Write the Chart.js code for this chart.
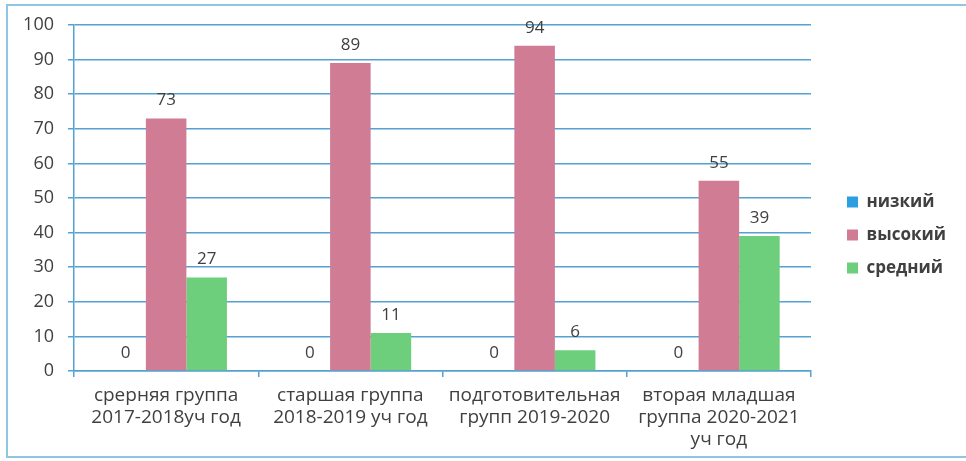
<!DOCTYPE html>
<html>
<head>
<meta charset="utf-8">
<script src="https://cdn.jsdelivr.net/npm/chart.js@4/dist/chart.umd.min.js"></script>
<style>
	html, body { margin: 0; padding: 0; background: #fff; }
	#wrap { position: relative; width: 966px; height: 461px; }
	#frame { position: absolute; left: 6px; top: 4px; width: 966px; height: 454px; border: 2px solid #8fc6e4; border-right: none; box-sizing: border-box; }
	canvas { position: absolute; left: 0; top: 0; }
</style>
</head>
<body>
<div id="wrap">
	<div id="frame"></div>
	<canvas id="chart" width="966" height="461"></canvas>
</div>
<script>
const categories = [
	['срерняя группа', '2017-2018уч год'],
	['старшая группа', '2018-2019 уч год'],
	['подготовительная', 'групп 2019-2020'],
	['вторая младшая', 'группа 2020-2021', 'уч год']
];
const seriesNames = ['низкий', 'высокий', 'средний'];
const lowValues = [0, 0, 0, 0];
const highValues = [73, 89, 94, 55];
const midValues = [27, 11, 6, 39];
const yMin = 0;
const yMax = 100;
const yStep = 10;

const gridColor = '#55a2d2';
const textColor = '#404040';
const fontFamily = '"Open Sans", "DejaVu Sans", sans-serif';

// value labels above each bar
const valueLabels = {
	id: 'valueLabels',
	afterDatasetsDraw(chart) {
		const ctx = chart.ctx;
		ctx.save();
		ctx.font = '17px ' + fontFamily;
		ctx.fillStyle = textColor;
		ctx.textAlign = 'center';
		ctx.textBaseline = 'middle';
		chart.data.datasets.forEach((ds, i) => {
			chart.getDatasetMeta(i).data.forEach((bar, j) => {
				ctx.fillText(ds.data[j], bar.x, bar.y - 18);
			});
		});
		ctx.restore();
	}
};

// keep the plot area narrow and move the legend a bit to the right of it
const legendPlace = {
	id: 'legendPlace',
	beforeLayout(chart) {
		const legend = chart.legend;
		if (legend && !legend._fixed) {
			const fit = legend.fit;
			legend.fit = function () {
				fit.call(this);
				this.width = 147;
			};
			legend._fixed = true;
		}
	},
	afterLayout(chart) {
		chart.legend.left += 20;
		chart.legend.right += 20;
		chart.legend.top -= 8;
		chart.legend.bottom -= 8;
	}
};

new Chart(document.getElementById('chart'), {
	type: 'bar',
	data: {
		labels: categories,
		datasets: [
			{ label: seriesNames[0], data: lowValues, backgroundColor: '#2c9fe2' },
			{ label: seriesNames[1], data: highValues, backgroundColor: '#d07c95' },
			{ label: seriesNames[2], data: midValues, backgroundColor: '#6dcf7b' }
		]
	},
	options: {
		responsive: false,
		animation: false,
		layout: { padding: { top: 25, right: 8, bottom: 0, left: 0 } },
		datasets: {
			bar: { categoryPercentage: 0.66, barPercentage: 1.0 }
		},
		scales: {
			x: {
				grid: { drawOnChartArea: false, offset: true, tickLength: 6, color: gridColor, lineWidth: 1.5 },
				border: { color: gridColor, width: 1.5 },
				ticks: {
					color: textColor,
					padding: 8,
					maxRotation: 0,
					font: { family: fontFamily, size: 19, lineHeight: '22px' }
				},
				afterFit(scale) { scale.height = 90; }
			},
			y: {
				min: yMin,
				max: yMax,
				grid: { color: gridColor, lineWidth: 1.5, tickLength: 6 },
				border: { color: gridColor, width: 1.5 },
				ticks: {
					stepSize: yStep,
					color: textColor,
					padding: 14,
					font: { family: fontFamily, size: 18 }
				},
				afterFit(scale) { scale.width = 74; }
			}
		},
		plugins: {
			legend: {
				position: 'right',
				labels: {
					boxWidth: 11,
					boxHeight: 11,
					padding: 16,
					color: textColor,
					font: { family: fontFamily, size: 17, weight: 'bold' }
				}
			},
			tooltip: { enabled: false }
		}
	},
	plugins: [valueLabels, legendPlace]
});
</script>
</body>
</html>
